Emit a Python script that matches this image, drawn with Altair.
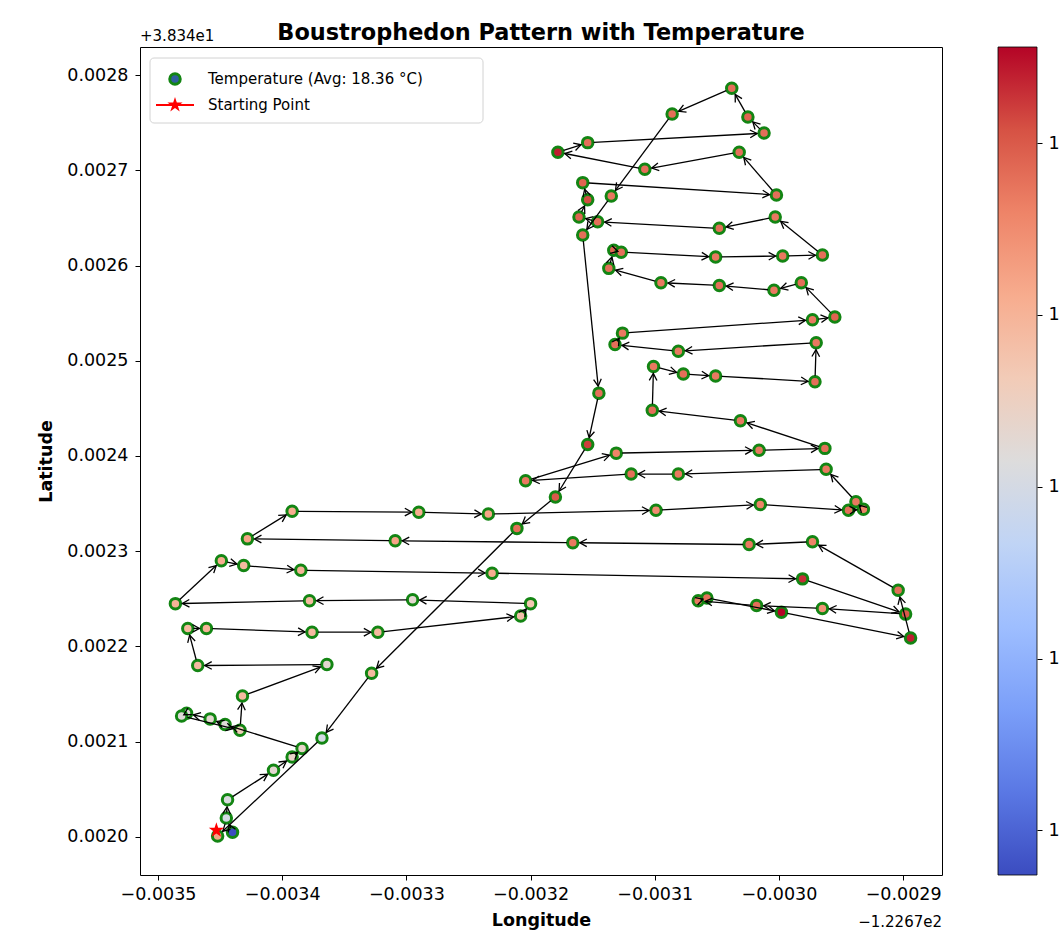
import math
import pandas as pd
import altair as alt

# ---------------- data (offsets from lon -122.67 / lat 38.34, in micro-degrees) -------------
lon_u = [-3440, -3445, -3444, -3407, -3392, -3384, -3446, -3458, -3477, -3481,
         -3434, -3432, -3364, -3468, -3476, -3461, -3376, -3323, -3208, -3200,
         -3295, -3378, -3486, -3449, -3431, -3385, -3231, -2981, -2898, -2965,
         -3018, -3065, -3058, -2998, -2894, -2904, -2973, -3024, -3166, -3309,
         -3428, -3392, -3290, -3234, -3099, -3015, -2944, -2932, -2938, -2962,
         -3081, -3119, -3204, -3131, -3016, -2963, -3031, -3102, -3101, -3077,
         -3051, -2971, -2970, -3081, -3132, -3126, -2973, -2955, -2982, -3004,
         -3048, -3095, -3137, -3133, -3127, -3051, -2997, -2965, -3003, -3048,
         -3146, -3161, -3154, -3158, -3002, -3032, -3108, -3178, -3154, -3012,
         -3025, -3038, -3086, -3135, -3158, -3145, -3154, -3180, -3211, -3328,
         -3368, -3452]
lat_u = [2005, 2020, 2039, 2070, 2084, 2093, 2118, 2124, 2130, 2127,
         2112, 2148, 2181, 2180, 2219, 2219, 2215, 2215, 2232, 2245,
         2249, 2248, 2245, 2290, 2285, 2280, 2277, 2271, 2234, 2240,
         2243, 2248, 2251, 2236, 2209, 2259, 2310, 2307, 2309, 2311,
         2313, 2342, 2341, 2339, 2343, 2349, 2343, 2344, 2352, 2386,
         2381, 2381, 2374, 2403, 2406, 2408, 2437, 2448, 2494, 2486,
         2484, 2478, 2519, 2510, 2517, 2529, 2543, 2546, 2582, 2574,
         2579, 2582, 2597, 2616, 2614, 2609, 2610, 2611, 2651, 2639,
         2646, 2651, 2669, 2687, 2674, 2719, 2701, 2719, 2729, 2739,
         2756, 2786, 2759, 2673, 2632, 2466, 2412, 2357, 2324, 2172,
         2104, 2001]
temps = [14.74, 17.0, 17.1, 17.3, 17.4, 17.4, 17.2, 17.3, 17.2, 17.2,
         17.6, 17.9, 17.3, 17.9, 17.9, 18.0, 17.9, 17.9, 17.8, 17.7,
         17.3, 17.9, 18.0, 18.1, 17.9, 18.0, 18.1, 19.3, 19.0, 18.4,
         18.8, 18.7, 18.8, 19.56, 19.4, 18.8, 18.6, 18.7, 18.7, 18.2,
         18.2, 18.1, 18.1, 18.2, 18.5, 18.6, 18.8, 18.6, 18.7, 18.7,
         18.7, 18.8, 18.7, 18.6, 18.7, 18.8, 18.7, 18.8, 18.7, 18.8,
         18.7, 18.8, 18.7, 18.7, 18.8, 18.7, 18.7, 18.9, 18.8, 18.7,
         18.8, 18.7, 18.8, 18.9, 18.8, 18.7, 18.7, 18.8, 18.7, 18.8,
         18.8, 18.9, 19.1, 18.9, 18.8, 18.8, 18.8, 19.4, 18.8, 18.8,
         18.9, 18.8, 18.8, 18.7, 18.8, 18.8, 19.2, 19.0, 18.8, 17.9,
         17.0, 18.2]
start_lon_u = -3453
start_lat_u = 2007
AVG_TEMP = 18.36
TITLE = "Boustrophedon Pattern with Temperature"
LAT_OFFSET_TEXT = "+3.834e1"
LON_OFFSET_TEXT = "\u22121.2267e2"
X_TICKS = [v / 10000 for v in range(-35, -28)]
Y_TICKS = [v / 10000 for v in range(20, 29)]
CBAR_TICKS = [15, 16, 17, 18, 19]

COOLWARM = ["#3b4cc0", "#5a78e4", "#7b9ff9", "#9ebeff", "#c0d4f5", "#dddcdc",
            "#f2cbb7", "#f7ac8e", "#ee8468", "#d65244", "#b40426"]

# ---------------- layout ----------------
PLOT_W, PLOT_H = 802, 828
X_DOMAIN = [-0.0035145, -0.0028687]
Y_DOMAIN = [0.0019601, 0.0028294]
FONT = "DejaVu Sans"
FS = 15          # legend / offset text
FT = 17.5        # tick labels and axis titles
EDGE = "#138513"

df = pd.DataFrame({
    "lon": [v * 1e-6 for v in lon_u],
    "lat": [v * 1e-6 for v in lat_u],
    "temp": temps,
})

# arrow segments (shrunk at both ends like matplotlib annotate)
kx = PLOT_W / (X_DOMAIN[1] - X_DOMAIN[0])
ky = PLOT_H / (Y_DOMAIN[1] - Y_DOMAIN[0])
rows = []
for i in range(len(df) - 1):
    x0, y0 = df.lon[i], df.lat[i]
    x1, y1 = df.lon[i + 1], df.lat[i + 1]
    sx, sy = (x1 - x0) * kx, -(y1 - y0) * ky
    L = math.hypot(sx, sy)
    if L == 0:
        continue
    sa = min(6.0, 0.3 * L)
    sb = min(7.0, 0.45 * L)
    ux, uy = (x1 - x0) / L, (y1 - y0) / L
    rows.append({
        "xa": x0 + ux * sa, "ya": y0 + uy * sa,
        "xb": x1 - ux * sb, "yb": y1 - uy * sb,
        "ang": math.degrees(math.atan2(sy, sx)) % 360,
    })
seg = pd.DataFrame(rows)

T_MIN, T_MAX = min(temps), max(temps)
cdomain = [T_MIN + (T_MAX - T_MIN) * i / (len(COOLWARM) - 1) for i in range(len(COOLWARM))]

xscale = alt.Scale(domain=X_DOMAIN, nice=False, zero=False)
yscale = alt.Scale(domain=Y_DOMAIN, nice=False, zero=False)

def xaxis():
    return alt.Axis(values=X_TICKS, format=".4f", title="Longitude", titleFontWeight="bold",
                    titleFontSize=FT, titleFont=FONT, titleColor="black", titlePadding=9,
                    labelFontSize=FT, labelFont=FONT, labelColor="black", labelPadding=5,
                    tickSize=5, tickColor="black", domain=False, grid=False, labelFlush=False)

def yaxis():
    return alt.Axis(values=Y_TICKS, format=".4f", title="Latitude", titleFontWeight="bold",
                    titleFontSize=FT, titleFont=FONT, titleColor="black", titlePadding=11,
                    labelFontSize=FT, labelFont=FONT, labelColor="black", labelPadding=7,
                    tickSize=5, tickColor="black", domain=False, grid=False)

ARROW = "M -1 -0.55 L 0 0 L -1 0.55"
STAR = ("M 0 -1 L 0.225 -0.309 L 0.951 -0.309 L 0.363 0.118 L 0.588 0.809 L 0 0.382 "
        "L -0.588 0.809 L -0.363 0.118 L -0.951 -0.309 L -0.225 -0.309 Z")

pts = alt.Chart(df).mark_circle(size=110, stroke=EDGE, strokeWidth=3, opacity=1).encode(
    x=alt.X("lon:Q", scale=xscale, axis=xaxis()),
    y=alt.Y("lat:Q", scale=yscale, axis=yaxis()),
    fill=alt.Fill("temp:Q", scale=alt.Scale(domain=cdomain, range=COOLWARM, interpolate="rgb"),
                  legend=None),
)

rules = alt.Chart(seg).mark_rule(color="black", strokeWidth=1.3).encode(
    x=alt.X("xa:Q", scale=xscale, axis=xaxis()),
    y=alt.Y("ya:Q", scale=yscale, axis=yaxis()),
    x2="xb:Q", y2="yb:Q",
)
heads = alt.Chart(seg).mark_point(shape=ARROW, size=196, filled=False, color="black",
                                  strokeWidth=1.3, opacity=1).encode(
    x=alt.X("xb:Q", scale=xscale, axis=xaxis()),
    y=alt.Y("yb:Q", scale=yscale, axis=yaxis()),
    angle=alt.Angle("ang:Q", scale=None),
)

start_df = pd.DataFrame({"lon": [start_lon_u * 1e-6], "lat": [start_lat_u * 1e-6]})
star = alt.Chart(start_df).mark_point(shape=STAR, size=256, filled=True, color="red",
                                      opacity=1).encode(
    x=alt.X("lon:Q", scale=xscale, axis=xaxis()),
    y=alt.Y("lat:Q", scale=yscale, axis=yaxis()),
)

one = pd.DataFrame({"k": [0]})
leg_bg = alt.Chart(one).mark_rect(fill="white", stroke="#cccccc", strokeWidth=1,
                                  cornerRadius=4, opacity=0.85).encode(
    x=alt.value(10), x2=alt.value(343), y=alt.value(11), y2=alt.value(76))
leg_dot = alt.Chart(one).mark_circle(size=110, fill="#2f5f9e", stroke=EDGE, strokeWidth=3,
                                     opacity=1).encode(x=alt.value(35), y=alt.value(32))
leg_line = alt.Chart(one).mark_rule(color="red", strokeWidth=2).encode(
    x=alt.value(16), x2=alt.value(54), y=alt.value(58))
leg_star = alt.Chart(one).mark_point(shape=STAR, size=256, filled=True, color="red",
                                     opacity=1).encode(x=alt.value(35), y=alt.value(58))
leg_t1 = alt.Chart(one).mark_text(align="left", baseline="middle", font=FONT, fontSize=FS,
                                  color="black").encode(
    x=alt.value(68), y=alt.value(32),
    text=alt.value(f"Temperature (Avg: {AVG_TEMP:.2f} \u00b0C)"))
leg_t2 = alt.Chart(one).mark_text(align="left", baseline="middle", font=FONT, fontSize=FS,
                                  color="black").encode(
    x=alt.value(68), y=alt.value(58), text=alt.value("Starting Point"))

off_lat = alt.Chart(one).mark_text(align="left", baseline="alphabetic", font=FONT, fontSize=FS,
                                   color="black").encode(
    x=alt.value(0), y=alt.value(-6), text=alt.value(LAT_OFFSET_TEXT))
off_lon = alt.Chart(one).mark_text(align="right", baseline="alphabetic", font=FONT, fontSize=FS,
                                   color="black").encode(
    x=alt.value(PLOT_W), y=alt.value(PLOT_H + 52), text=alt.value(LON_OFFSET_TEXT))
title = alt.Chart(one).mark_text(align="center", baseline="alphabetic", font=FONT, fontSize=22.4,
                                 fontWeight="bold", color="black").encode(
    x=alt.value(PLOT_W / 2), y=alt.value(-7), text=alt.value(TITLE))

main = alt.layer(pts, rules, heads, star, leg_bg, leg_dot, leg_line, leg_star, leg_t1, leg_t2,
                 off_lat, off_lon, title)

gradient = alt.LinearGradient(
    gradient="linear",
    stops=[alt.GradientStop(color=c, offset=i / (len(COOLWARM) - 1)) for i, c in enumerate(COOLWARM)],
    x1=0, x2=0, y1=1, y2=0)
cbar_df = pd.DataFrame({"t0": [T_MIN], "t1": [T_MAX]})
cbar = alt.Chart(cbar_df).mark_rect(color=gradient, stroke="black", strokeWidth=0.8).encode(
    x=alt.value(858), x2=alt.value(897),
    y=alt.Y("t0:Q", scale=alt.Scale(domain=[T_MIN, T_MAX], nice=False, zero=False),
            axis=alt.Axis(orient="right", offset=95, values=CBAR_TICKS, format="d", domain=False,
                          grid=False, tickSize=5, tickColor="black", labelFontSize=FT,
                          labelFont=FONT, labelColor="black", labelPadding=6, title=None)),
    y2="t1:Q",
)

chart = alt.layer(main, cbar).resolve_scale(y="independent").properties(
    width=PLOT_W, height=PLOT_H,
    padding={"left": 140, "top": 47, "right": 117, "bottom": 57},
    autosize=alt.AutoSizeParams(type="none"),
).configure_view(stroke="black", strokeWidth=1)

chart.save("out.html", embed_options={"renderer": "svg", "actions": False})
